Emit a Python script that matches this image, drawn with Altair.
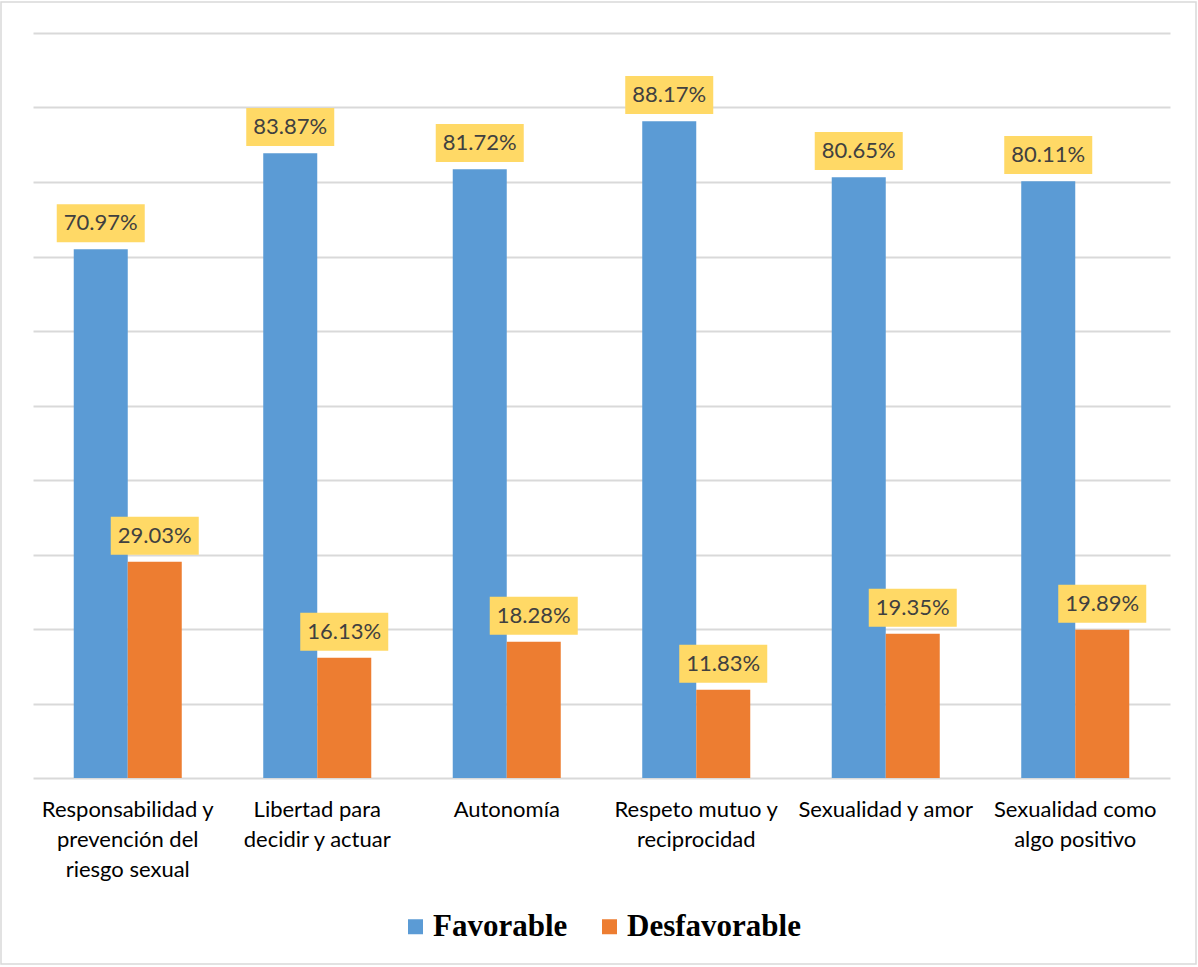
import altair as alt
import pandas as pd

categories = [
    "Responsabilidad y|prevención del|riesgo sexual",
    "Libertad para|decidir y actuar",
    "Autonomía",
    "Respeto mutuo y|reciprocidad",
    "Sexualidad y amor",
    "Sexualidad como|algo positivo",
]
series = ["Favorable", "Desfavorable"]
favorable = [70.97, 83.87, 81.72, 88.17, 80.65, 80.11]
desfavorable = [29.03, 16.13, 18.28, 11.83, 19.35, 19.89]
colors = ["#5B9BD5", "#ED7D31"]
grid_values = [0, 10, 20, 30, 40, 50, 60, 70, 80, 90, 100]

rows = []
for i, c in enumerate(categories):
    rows.append({"cat": c, "serie": series[0], "val": favorable[i]})
    rows.append({"cat": c, "serie": series[1], "val": desfavorable[i]})
df = pd.DataFrame(rows)

x_enc = alt.X("cat:N", sort=categories, title=None,
              scale=alt.Scale(paddingInner=0.43, paddingOuter=0.215),
              axis=alt.Axis(labelExpr="split(datum.label, '|')", labelAngle=0,
                            labelFont="Lato", labelFontSize=22, labelColor="#000000",
                            labelLineHeight=30, labelPadding=21, ticks=False,
                            domain=False, labelLimit=0))
xo_enc = alt.XOffset("serie:N", sort=series, scale=alt.Scale(paddingInner=0, paddingOuter=0))
y_scale = alt.Scale(domain=[0, 100], nice=False)

bars = alt.Chart(df).mark_bar().encode(
    x=x_enc,
    xOffset=xo_enc,
    y=alt.Y("val:Q", scale=y_scale, title=None,
            axis=alt.Axis(labels=False, ticks=False, domain=False, grid=True,
                          gridColor="#D9D9D9", gridWidth=2, values=grid_values)),
    color=alt.Color("serie:N", sort=series,
                    scale=alt.Scale(domain=series, range=colors),
                    legend=alt.Legend(title=None, orient="none", direction="horizontal",
                                      legendX=367, legendY=878,
                                      symbolType="square", symbolSize=225,
                                      symbolStrokeWidth=0,
                                      labelFont="Liberation Serif", labelFontSize=31,
                                      labelFontWeight="bold", labelColor="#000000",
                                      columnPadding=26, labelOffset=2,
                                      labelLimit=0)),
)

boxes = alt.Chart(df).transform_calculate(
    y0="datum.val + 0.95", y1="datum.val + 6.05"
).mark_bar(width=88, color="#FFD966").encode(
    x=alt.X("cat:N", sort=categories),
    xOffset=xo_enc,
    y=alt.Y("y0:Q", scale=y_scale),
    y2="y1:Q",
)

texts = alt.Chart(df).transform_calculate(
    ty="datum.val + 3.5",
    lbl="format(datum.val, '.2f') + '%'",
).mark_text(font="Lato", fontSize=22, color="#404040", baseline="middle").encode(
    x=alt.X("cat:N", sort=categories),
    xOffset=xo_enc,
    y=alt.Y("ty:Q", scale=y_scale),
    text="lbl:N",
)

frame = alt.Chart(alt.Data(values=[{}])).mark_rect(
    fill=None, stroke="#D9D9D9", strokeWidth=1.5
).encode(x=alt.value(-32), x2=alt.value(1163), y=alt.value(-31), y2=alt.value(931))

chart = alt.layer(bars, boxes, texts, frame).properties(
    width=1137, height=745,
    autosize=alt.AutoSizeParams(type="none"),
    padding={"left": 33, "top": 33, "right": 28, "bottom": 189},
    background="white",
).configure_view(stroke=None)

chart.save("out.html", embed_options={"renderer": "svg", "actions": False})
